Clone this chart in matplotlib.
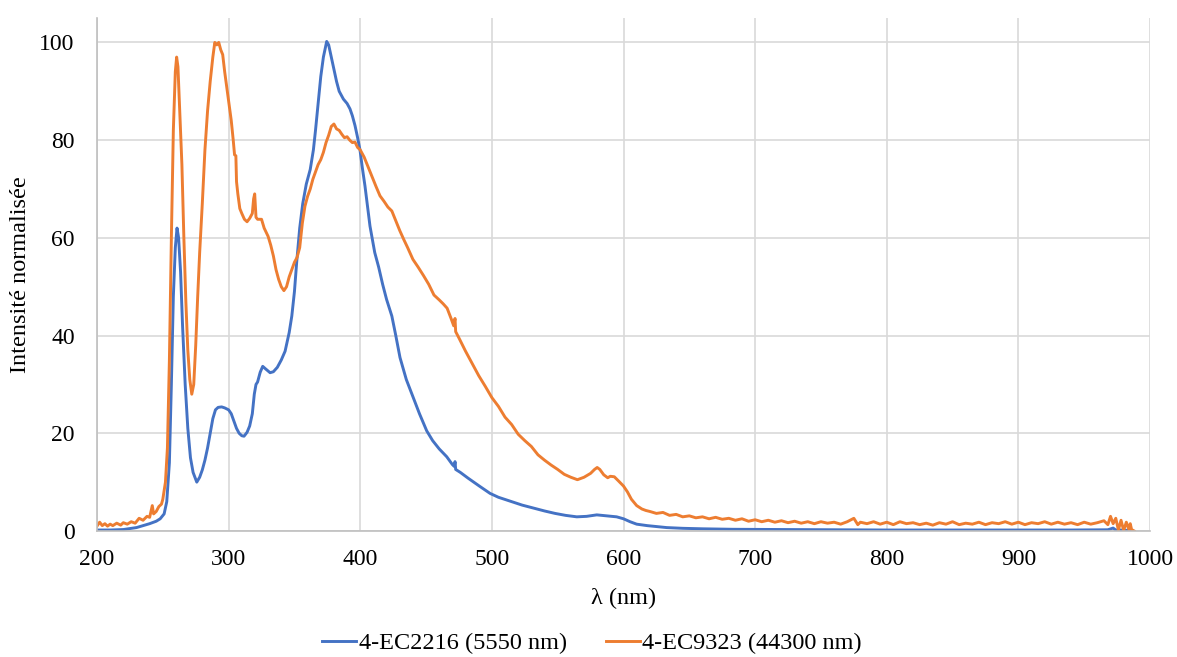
import matplotlib
matplotlib.use("Agg")
import matplotlib.pyplot as plt

# ---- data: 4-EC2216 (5550 nm) ----
wl_blue = [200, 210, 220, 230, 240, 245, 248, 251, 253, 255, 256.5, 258, 259.5, 260.8, 262, 263.5,
           265, 267, 269, 271, 273, 275.8, 278, 280, 282, 284, 286, 288, 290, 292, 294.7, 297, 300,
           302, 304, 306, 308, 310, 311.7, 314, 316, 318, 319.5, 320.8, 322, 324, 325.9, 328, 331.5,
           334, 337, 340, 342.9, 346, 348, 350, 351.7, 354, 356.3, 359, 362, 364.4, 366, 368.2, 370,
           372, 374.5, 376, 378, 380, 382, 384, 387.2, 390, 392.2, 394, 396, 398, 399.8, 401.5, 403.6,
           405.5, 407.4, 409, 411, 414, 417, 420, 424, 427, 430.2, 435, 440, 445, 450.5, 455, 460,
           465.7, 470, 471.5, 472, 472.5, 476, 482, 491, 498.6, 505, 515, 523, 531.5, 540, 548, 556,
           564.5, 572, 579.7, 587, 594.8, 600, 605, 610, 618, 625, 632.8, 645, 660, 683, 720, 760,
           800, 850, 900, 940, 968, 972, 974, 977, 982, 986]
val_blue = [0.2, 0.2, 0.3, 0.7, 1.5, 2.0, 2.5, 3.5, 6, 14, 30, 48, 58, 62, 60, 53,
            42, 30, 21, 15, 12, 10, 11, 12.5, 14.5, 17, 20, 23, 24.8, 25.3, 25.4, 25.2, 24.8,
            24, 22.5, 21, 20, 19.5, 19.4, 20.2, 21.5, 24, 28, 30, 30.5, 32.5, 33.7, 33.2, 32.4,
            32.6, 33.5, 35, 36.8, 40.6, 44, 49, 55, 62, 67, 71, 74, 78, 82, 88, 93,
            97, 100.2, 99.5, 97, 94.5, 92, 90, 88.4, 87.5, 86.4, 85, 83, 80.5, 78, 74.5, 70.6,
            66.5, 62.4, 60, 57, 54, 50.5, 47.4, 44, 40, 35.5, 31, 27.5, 24, 20.5, 18.5, 16.8,
            15.2, 13.6, 13.2, 14.2, 12.6, 12.0, 10.8, 9.1, 7.7, 6.9, 6.0, 5.3, 4.7, 4.1, 3.6, 3.2,
            2.9, 3.0, 3.3, 3.1, 2.9, 2.5, 1.9, 1.4, 1.1, 0.9, 0.7, 0.55, 0.45, 0.35, 0.3, 0.25,
            0.2, 0.2, 0.2, 0.2, 0.25, 0.6, 0.2, 0.2, 0.15, 0.1]

# ---- data: 4-EC9323 (44300 nm) ----
wl_orange = [200, 202, 204, 206, 208, 210, 212, 215, 218, 220, 223, 226, 229, 232, 235, 238, 240,
             242, 243, 245, 247, 249, 250, 252, 253.5, 255, 256.5, 258, 259.5, 260.5, 261.5, 263,
             264.5, 266, 267.5, 269, 270.5, 272, 273.5, 275, 276.5, 278, 280, 282, 284, 286, 288,
             289.5, 291, 292.5, 294, 295.5, 297, 298.5, 300, 302, 303.5, 304.5, 305.5, 306, 307,
             308.5, 310, 312, 314, 316, 318, 319, 319.8, 320.8, 322, 325, 327, 330, 332, 334, 336,
             338, 340, 342, 344, 346, 348, 350, 352, 354, 356, 358, 360, 362, 364, 366, 368, 370,
             372, 374, 376, 378, 380, 382, 384, 386, 388, 390, 392, 394, 396, 398, 400, 403, 406,
             409, 412, 415, 418, 421, 424, 427, 430, 433, 436, 440, 444, 448, 452, 456, 460, 463,
             466, 469, 471, 472, 472.5, 475, 480, 485, 490, 495, 500, 505, 510, 515, 520, 525, 530,
             535, 540, 545, 550, 555, 560, 565, 570, 575, 578, 580, 582, 585, 588, 590, 593, 596,
             600, 603, 606, 610, 614, 617, 620, 625, 630, 635, 640, 645, 650, 655, 660, 665, 670,
             675, 680, 685, 690, 695, 700, 705, 710, 715, 720, 725, 730, 735, 740, 745, 750, 755,
             760, 765, 770, 775, 778, 780, 785, 790, 795, 800, 805, 810, 815, 820, 825, 830, 835,
             840, 845, 850, 855, 860, 865, 870, 875, 880, 885, 890, 895, 900, 905, 910, 915, 920,
             925, 930, 935, 940, 945, 950, 955, 960, 965, 968, 970, 972, 974, 976, 978, 980, 982,
             984, 985, 986, 988]
val_orange = [1.0, 1.8, 1.1, 1.5, 1.0, 1.4, 1.1, 1.6, 1.2, 1.7, 1.4, 1.9, 1.6, 2.6, 2.2, 3.0, 2.8,
              5.2, 3.5, 4.0, 5.0, 5.5, 6.5, 10, 17, 35, 60, 82, 94, 97, 95, 85,
              75, 60, 47, 37, 31, 28, 30, 38, 48, 57, 67, 78, 86, 92, 97,
              100, 99.5, 100, 98.5, 97.5, 94, 91, 88, 84, 80, 77, 76.8, 71.5, 69,
              66, 65, 63.8, 63.3, 64, 65, 68, 69, 64.2, 63.8, 63.8, 62, 60.3, 58.5, 56.3, 53.5,
              51.5, 50, 49.2, 50, 52, 53.5, 55, 56, 58, 63, 66.5, 68.5, 70, 72, 73.5, 75, 76,
              77.5, 79.5, 81, 82.8, 83.3, 82.3, 82, 81.2, 80.5, 80.7, 80, 79.5, 79.6, 78.5, 78, 76.5, 74.5,
              72.5, 70.5, 68.6, 67.5, 66.3, 65.5, 63.5, 61.5, 59.7, 58, 55.6, 54, 52.3, 50.5, 48.3, 47.3, 46.5,
              45.6, 43.5, 42, 43.5, 40.8, 39.5, 36.8, 34.3, 31.8, 29.6, 27.3, 25.5, 23.3, 21.8, 19.8, 18.5, 17.3,
              15.6, 14.5, 13.5, 12.6, 11.6, 11.0, 10.5, 11.0, 11.8, 12.6, 13.0, 12.6, 11.5, 10.9, 11.2, 11.1, 10.3,
              9.2, 8.0, 6.5, 5.2, 4.5, 4.2, 4.0, 3.6, 3.8, 3.2, 3.4, 2.9, 3.1, 2.7, 2.9, 2.5, 2.8,
              2.4, 2.6, 2.2, 2.5, 2.0, 2.3, 1.9, 2.2, 1.8, 2.1, 1.7, 2.0, 1.6, 1.9, 1.5, 1.9, 1.6,
              1.8, 1.4, 1.9, 2.6, 1.3, 1.8, 1.5, 1.9, 1.4, 1.8, 1.3, 1.9, 1.5, 1.7, 1.3, 1.6, 1.2,
              1.7, 1.4, 1.9, 1.3, 1.6, 1.4, 1.8, 1.3, 1.7, 1.5, 1.9, 1.4, 1.8, 1.3, 1.7, 1.5, 1.9,
              1.4, 1.8, 1.4, 1.7, 1.3, 1.8, 1.4, 1.7, 2.1, 1.3, 3.0, 1.5, 2.6, 0.2, 2.2, 0.1, 1.8,
              0.3, 1.5, 0.3, 0.0]

labels = ["4-EC2216 (5550 nm)", "4-EC9323 (44300 nm)"]
colors = ["#4472C4", "#ED7D31"]
x_ticks = [200, 300, 400, 500, 600, 700, 800, 900, 1000]
y_ticks = [0, 20, 40, 60, 80, 100]

plt.rcParams['font.family'] = ['Liberation Serif', 'DejaVu Serif']

fig = plt.figure(figsize=(11.77, 6.57), dpi=100)
ax = fig.add_axes([97/1177, 1 - 531/657, (1150 - 97)/1177, (531 - 18)/657])

ax.plot(wl_blue, val_blue, color=colors[0], lw=2.1, label=labels[0], solid_joinstyle='round')
ax.plot(wl_orange, val_orange, color=colors[1], lw=2.1, label=labels[1], solid_joinstyle='round')

ax.set_xlim(200, 1000)
ax.set_ylim(0, 105)
ax.set_xticks(x_ticks)
ax.set_yticks(y_ticks)
ax.grid(True, color="#D9D9D9", lw=1.2)
ax.set_axisbelow(True)
for s in ["top", "right"]:
    ax.spines[s].set_visible(False)
for s in ["left", "bottom"]:
    ax.spines[s].set_color("#BFBFBF")
    ax.spines[s].set_linewidth(1.2)
ax.tick_params(length=0, labelsize=17, colors="black", pad=13)
ax.tick_params(axis='y', pad=16)

ax.set_xlabel("λ (nm)", fontsize=17.5)
ax.set_ylabel("Intensité normalisée", fontsize=17.5)
ax.yaxis.set_label_coords(-0.063, 0.5)
ax.xaxis.set_label_coords(0.5, -0.11)

fig.legend(loc="center", bbox_to_anchor=(0.503, 0.021), ncol=2, frameon=False, fontsize=17.5,
           handlelength=1.4, columnspacing=1.6, handletextpad=0.1)

fig.savefig("out.png", dpi=100)
